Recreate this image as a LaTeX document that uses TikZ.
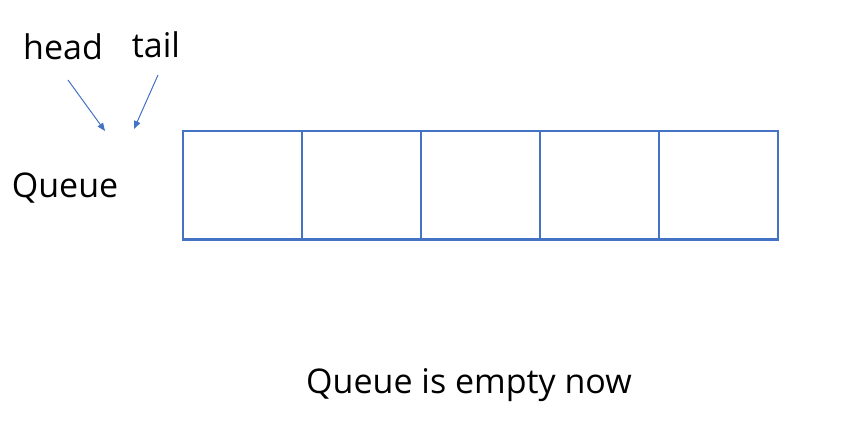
\documentclass[tikz,border=0pt]{standalone}
\usepackage{fontspec}
\setmainfont{Open Sans}
\usetikzlibrary{arrows.meta}
\definecolor{qblue}{HTML}{4472C4}
\tikzset{
  lbl/.style={inner sep=0pt, font=\fontsize{34}{39}\selectfont, text=black},
  ptr/.style={draw=qblue, line width=1pt, -{Triangle[length=8pt,width=6.5pt]}},
  cell/.style={draw=qblue, line width=1.6pt, minimum width=119pt, minimum height=108pt, inner sep=0pt, anchor=north west}
}
\begin{document}
\begin{tikzpicture}[x=1pt,y=-1pt]
\useasboundingbox (0,0) rectangle (844,442);
\node[lbl] (head) at (63,47) {head};
\node[lbl] (tail) at (156,45) {tail};
\node[lbl] (queue) at (65,188) {Queue};
\node[lbl] (msg) at (469,385) {Queue is empty now};
\coordinate (hs) at (68,80);
\coordinate (he) at (105,131);
\coordinate (ts) at (158,75);
\coordinate (te) at (134,129);
\draw[ptr] (hs) -- (he);
\draw[ptr] (ts) -- (te);
\node[cell] (c1) at (182,130) {};
\node[cell] (c2) at (301,130) {};
\node[cell] (c3) at (420,130) {};
\node[cell] (c4) at (539,130) {};
\node[cell] (c5) at (658,130) {};
\draw[qblue, line width=3pt] (c1.south west) -- (c5.south east);
\end{tikzpicture}
\end{document}
